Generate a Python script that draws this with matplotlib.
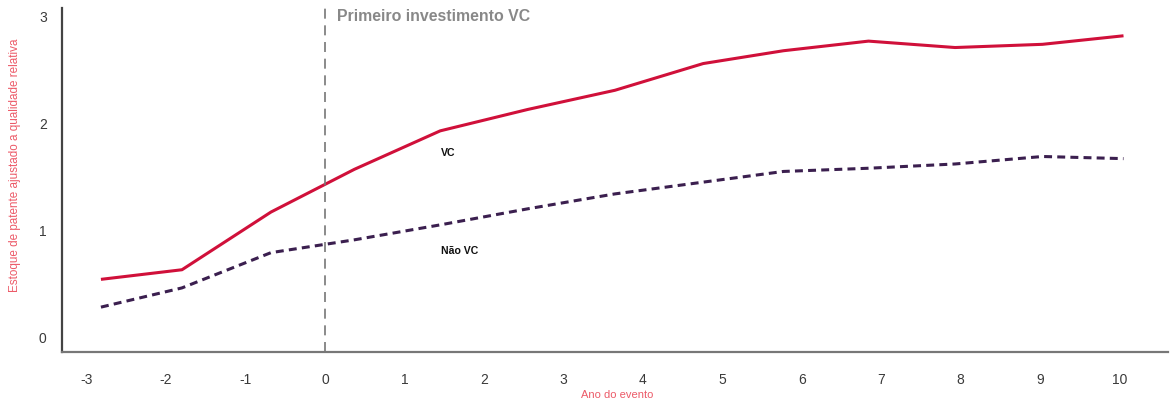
import matplotlib
matplotlib.use("Agg")
import matplotlib.pyplot as plt

# Data
years = [-2.82, -1.80, -0.68, 0.37, 1.45, 2.55, 3.65, 4.76, 5.77, 6.84, 7.93, 9.03, 10.05]
vc = [0.54, 0.63, 1.17, 1.57, 1.93, 2.13, 2.31, 2.56, 2.68, 2.77, 2.71, 2.74, 2.82]
nao_vc = [0.28, 0.46, 0.79, 0.91, 1.05, 1.20, 1.34, 1.45, 1.55, 1.58, 1.62, 1.69, 1.67]
xticks = list(range(-3, 11))
yticks = [0, 1, 2, 3]

plt.rcParams['font.family'] = ['Liberation Sans', 'DejaVu Sans']

fig = plt.figure(figsize=(11.74, 4.03), dpi=100)
ax = fig.add_axes([62/1174, 1 - 352/403, (1168-62)/1174, (352-8)/403])

ax.plot(years, vc, color='#D0103A', lw=2.2, solid_capstyle='butt')
ax.plot(years, nao_vc, color='#3B1F4F', lw=2.2, dashes=(2.6, 1.7))

ax.axvline(0, color='#777777', lw=1.2, dashes=(6, 4))
ax.text(0.15, 3.0, 'Primeiro investimento VC', fontsize=11.4, fontweight='bold',
        color='#888888', ha='left', va='center')
ax.text(1.46, 1.72, 'VC', fontsize=7.6, fontweight='bold', color='#111111', ha='left', va='center')
ax.text(1.46, 0.81, 'Não VC', fontsize=7.6, fontweight='bold', color='#111111', ha='left', va='center')

ax.set_xlim(-3.31, 10.61)
ax.set_ylim(-0.14, 3.08)
ax.set_xticks(xticks)
ax.set_xticklabels([str(t) for t in xticks])
ax.set_yticks(yticks)
ax.set_yticklabels([str(t) for t in yticks])
ax.tick_params(axis='both', length=0, labelsize=10, labelcolor='#3a3a3a')
ax.tick_params(axis='x', pad=15)
ax.tick_params(axis='y', pad=11)

for s in ['top', 'right']:
    ax.spines[s].set_visible(False)
ax.spines['left'].set_color('#444444')
ax.spines['left'].set_linewidth(1.6)
ax.spines['bottom'].set_color('#777777')
ax.spines['bottom'].set_linewidth(1.6)

fig.text(617/1174, 1 - 395/403, 'Ano do evento', fontsize=8, color='#EC5A68',
         ha='center', va='center')
fig.text(15/1174, 1 - 165/403, 'Estoque de patente ajustado a qualidade relativa', fontsize=8.4,
         color='#EC5A68', ha='center', va='center', rotation=90)

fig.savefig('out.png', dpi=100)
